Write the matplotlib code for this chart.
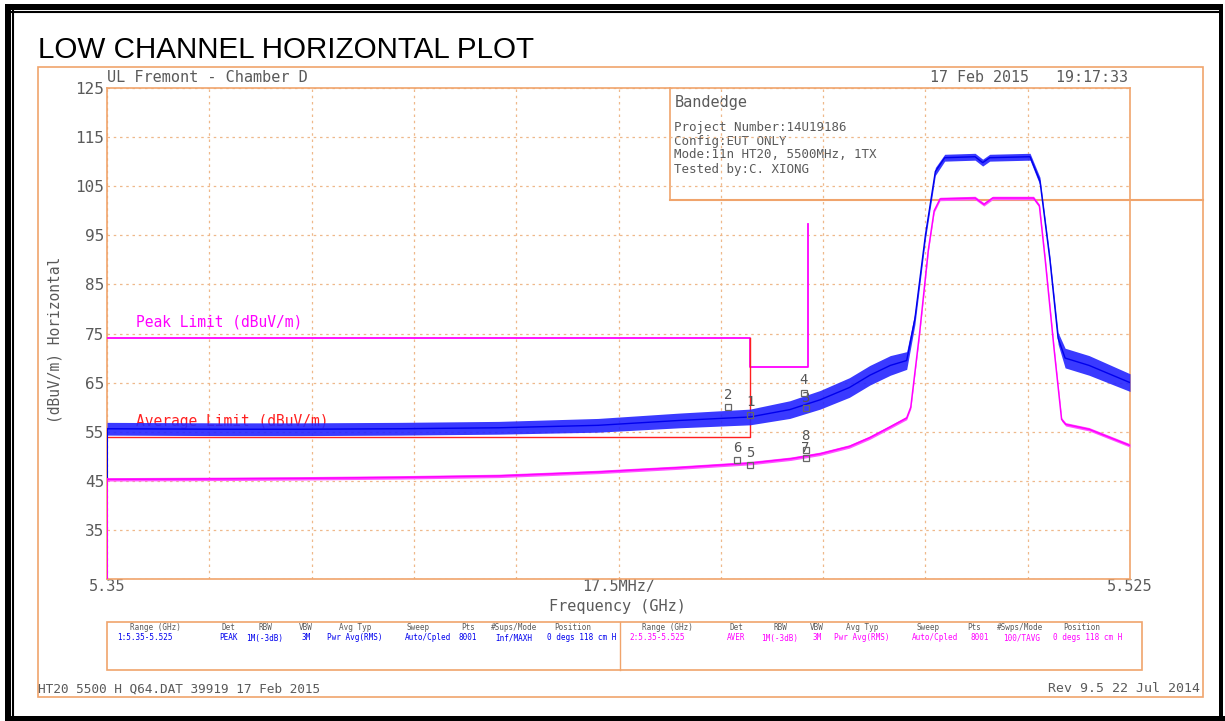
import matplotlib
matplotlib.use("Agg")
import matplotlib.pyplot as plt
from matplotlib.patches import Rectangle

# ---------------- data ----------------
peak_freq = [5.350, 5.370, 5.383, 5.400, 5.417, 5.434, 5.448, 5.460, 5.4668, 5.472,
             5.477, 5.4805, 5.484, 5.4868, 5.4882, 5.4900, 5.4917, 5.4933, 5.4985,
             5.4998, 5.5010, 5.5079, 5.5096, 5.5113, 5.5127, 5.5139, 5.5180, 5.5250]
peak_level = [55.6, 55.5, 55.5, 55.6, 55.8, 56.3, 57.3, 58.0, 59.5, 61.5,
              64.0, 66.5, 68.5, 69.5, 78.0, 95.0, 108.0, 110.8, 111.0,
              109.8, 110.8, 111.0, 106.0, 90.0, 74.0, 70.0, 68.5, 65.0]
peak_spread = [1.3, 1.3, 1.3, 1.3, 1.3, 1.4, 1.5, 1.6, 1.8, 1.9,
               2.0, 2.0, 2.0, 1.8, 1.2, 0.8, 0.8, 0.7, 0.7,
               0.7, 0.7, 0.7, 0.8, 0.8, 1.2, 2.0, 2.0, 1.8]

avg_freq = [5.350, 5.370, 5.383, 5.400, 5.417, 5.434, 5.448, 5.460, 5.467, 5.472,
            5.477, 5.4805, 5.484, 5.4868, 5.4875, 5.4890, 5.4905, 5.4915, 5.4925,
            5.4985, 5.5000, 5.5015, 5.5085, 5.5095, 5.5105, 5.5120, 5.5133, 5.5140,
            5.5180, 5.5250]
avg_level = [45.3, 45.4, 45.5, 45.7, 46.0, 46.8, 47.7, 48.6, 49.5, 50.5,
             52.0, 53.8, 56.0, 57.8, 60.0, 75.0, 92.0, 100.0, 102.4,
             102.6, 101.3, 102.6, 102.6, 101.0, 90.0, 72.0, 57.5, 56.5,
             55.5, 52.2]
avg_spread = [0.35] * 30

peak_limit_freq = [5.35, 5.46, 5.46, 5.47, 5.47]
peak_limit_val = [74.0, 74.0, 68.2, 68.2, 97.3]
avg_limit_freq = [5.35, 5.46, 5.46]
avg_limit_val = [54.0, 54.0, 74.0]

marker_labels = ["1", "2", "3", "4", "5", "6", "7", "8"]
marker_freq = [5.4600, 5.4563, 5.4695, 5.4692, 5.4600, 5.4578, 5.4695, 5.4695]
marker_val = [58.4, 60.0, 59.8, 62.9, 48.2, 49.2, 49.6, 51.2]

y_ticks = [25, 35, 45, 55, 65, 75, 85, 95, 105, 115, 125]
y_ticklabels = ["", "35", "45", "55", "65", "75", "85", "95", "105", "115", "125"]
x_ticklabels = ["5.35", "", "", "", "", "17.5MHz/", "", "", "", "", "5.525"]

table_headers = ["Range (GHz)", "Det", "RBW", "VBW", "Avg Typ", "Sweep", "Pts",
                 "#Sups/Mode", "Position"]
table_headers2 = ["Range (GHz)", "Det", "RBW", "VBW", "Avg Typ", "Sweep", "Pts",
                  "#Swps/Mode", "Position"]
trace1_row = ["1:5.35-5.525", "PEAK", "1M(-3dB)", "3M", "Pwr Avg(RMS)", "Auto/Cpled",
              "8001", "Inf/MAXH", "0 degs 118 cm H"]
trace2_row = ["2:5.35-5.525", "AVER", "1M(-3dB)", "3M", "Pwr Avg(RMS)", "Auto/Cpled",
              "8001", "100/TAVG", "0 degs 118 cm H"]

# ---------------- styling ----------------
W, H = 1225, 721
ORANGE = "#f0a46c"
GRID = "#efb88a"
GRAY = "#5a5a5a"
BLUE = "#0000ee"
MAG = "#ff00ff"
RED = "#ff2020"
MONO = "DejaVu Sans Mono"

fig = plt.figure(figsize=(W / 100, H / 100), dpi=100)
ov = fig.add_axes([0, 0, 1, 1])
ov.set_xlim(0, W)
ov.set_ylim(H, 0)
ov.axis("off")

# black page border
ov.add_patch(Rectangle((5, 4), 6, 716, color="black", lw=0))
ov.add_patch(Rectangle((5, 4), 1216, 6, color="black", lw=0))
ov.add_patch(Rectangle((5, 716), 1220, 5, color="black", lw=0))
ov.add_patch(Rectangle((1219, 4), 4, 716, color="black", lw=0))
ov.plot([12.5, 12.5], [11, 716], color="black", lw=1.5)
ov.plot([12, 1219], [11.5, 11.5], color="black", lw=1.5)

# orange outer frame
ov.add_patch(Rectangle((38, 66.5), 1165, 630, fill=False, ec=ORANGE, lw=1.2))
# info box
ov.plot([670, 670], [88, 200], color=ORANGE, lw=1.2)
ov.plot([670, 1203], [200, 200], color=ORANGE, lw=1.5)
# table box
ov.add_patch(Rectangle((107, 622), 1035, 48, fill=False, ec=ORANGE, lw=1.2))
ov.plot([620, 620], [622, 670], color=ORANGE, lw=1.0)

# title
ov.text(38, 50, "LOW CHANNEL HORIZONTAL PLOT", fontsize=21.3, family="Liberation Sans",
        ha="left", va="center", color="black")
ov.text(107, 78, "UL Fremont - Chamber D", fontsize=11, family=MONO, color=GRAY,
        ha="left", va="center")
ov.text(1128, 78, "17 Feb 2015   19:17:33", fontsize=10.8, family=MONO, color=GRAY,
        ha="right", va="center")

ov.text(675, 103, "Bandedge", fontsize=11, family=MONO, color=GRAY, ha="left", va="center")
info_lines = ["Project Number:14U19186", "Config:EUT ONLY",
              "Mode:11n HT20, 5500MHz, 1TX", "Tested by:C. XIONG"]
for i, t in enumerate(info_lines):
    ov.text(674, 127 + 14 * i, t, fontsize=9, family=MONO, color=GRAY,
            ha="left", va="center")

ov.text(55, 340, "(dBuV/m) Horizontal", rotation=90, fontsize=10.5, family=MONO,
        color=GRAY, ha="center", va="center")
ov.text(617, 607, "Frequency (GHz)", fontsize=11, family=MONO, color=GRAY,
        ha="center", va="center")

# table text
hx1 = [155, 228, 265, 306, 355, 418, 468, 514, 573]
vx1 = [117, 228, 265, 306, 355, 428, 468, 514, 582]
hx2 = [667, 736, 780, 817, 862, 928, 974, 1020, 1082]
vx2 = [629, 736, 780, 817, 862, 935, 980, 1022, 1088]
for i in range(9):
    ov.text(hx1[i], 628, table_headers[i], fontsize=5.5, family=MONO, color=GRAY,
            ha="center", va="center")
    ov.text(hx2[i], 628, table_headers2[i], fontsize=5.5, family=MONO, color=GRAY,
            ha="center", va="center")
    ov.text(vx1[i], 638, trace1_row[i], fontsize=5.5, family=MONO, color=BLUE,
            ha="left" if i == 0 else "center", va="center")
    ov.text(vx2[i], 638, trace2_row[i], fontsize=5.5, family=MONO, color=MAG,
            ha="left" if i == 0 else "center", va="center")

ov.text(38, 689, "HT20 5500 H Q64.DAT 39919 17 Feb 2015", fontsize=9.2, family=MONO,
        color=GRAY, ha="left", va="center")
ov.text(1200, 689, "Rev 9.5 22 Jul 2014", fontsize=9.5, family=MONO, color=GRAY,
        ha="right", va="center")

# ---------------- main plot ----------------
ax = fig.add_axes([107 / W, 1 - 579 / H, (1130 - 107) / W, (579 - 88) / H])
ax.patch.set_alpha(0)
ax.set_xlim(5.35, 5.525)
ax.set_ylim(25, 125)
xt = [5.35 + 0.0175 * k for k in range(11)]
ax.set_xticks(xt)
ax.set_xticklabels(x_ticklabels, family=MONO, fontsize=11, color=GRAY)
ax.set_yticks(y_ticks)
ax.set_yticklabels(y_ticklabels, family=MONO, fontsize=11.5, color=GRAY)
ax.tick_params(length=0, pad=2)
ax.tick_params(axis="x", pad=0)
ax.grid(True, color=GRID, ls=(0, (2, 3)), lw=0.9)
for s in ax.spines.values():
    s.set_color(ORANGE)
    s.set_linewidth(1.2)

# limit lines
ax.plot(peak_limit_freq, peak_limit_val, color=MAG, lw=1.3, zorder=3)
ax.plot(avg_limit_freq, avg_limit_val, color=RED, lw=1.0, zorder=3)
ax.text(5.3550, 75.8, "Peak Limit (dBuV/m)", family=MONO, fontsize=10.5, color=MAG,
        ha="left", va="bottom")
ax.text(5.3550, 55.6, "Average Limit (dBuV/m)", family=MONO, fontsize=10.5, color=RED,
        ha="left", va="bottom", zorder=2)

# traces
plo = [l - s for l, s in zip(peak_level, peak_spread)]
phi = [l + s for l, s in zip(peak_level, peak_spread)]
ax.fill_between(peak_freq, plo, phi, color="#2424ff", alpha=0.9, lw=0, zorder=4)
ax.plot(peak_freq, peak_level, color=BLUE, lw=1.0, zorder=5)

alo = [l - s for l, s in zip(avg_level, avg_spread)]
ahi = [l + s for l, s in zip(avg_level, avg_spread)]
ax.fill_between(avg_freq, alo, ahi, color="#ff55ff", lw=0, zorder=4)
ax.plot(avg_freq, avg_level, color=MAG, lw=1.1, zorder=5)

# trace start verticals at left edge
ax.plot([peak_freq[0], peak_freq[0]], [avg_level[0], peak_level[0]], color=BLUE, lw=1.5, zorder=5)
ax.plot([avg_freq[0], avg_freq[0]], [25, avg_level[0]], color=MAG, lw=1.5, zorder=5)

# markers
label_dy = [4, 4, 2, 4, 4, 4, 2, 5]
for lab, f, v, dy in zip(marker_labels, marker_freq, marker_val, label_dy):
    ax.plot([f], [v], marker="s", ms=4.5, mfc="none", mec="#666666", mew=0.9, zorder=6)
    ax.annotate(lab, (f, v), xytext=(0, dy), textcoords="offset points", ha="center",
                va="bottom", family=MONO, fontsize=10, color="#555555", zorder=6)

fig.savefig("out.png", dpi=100)
